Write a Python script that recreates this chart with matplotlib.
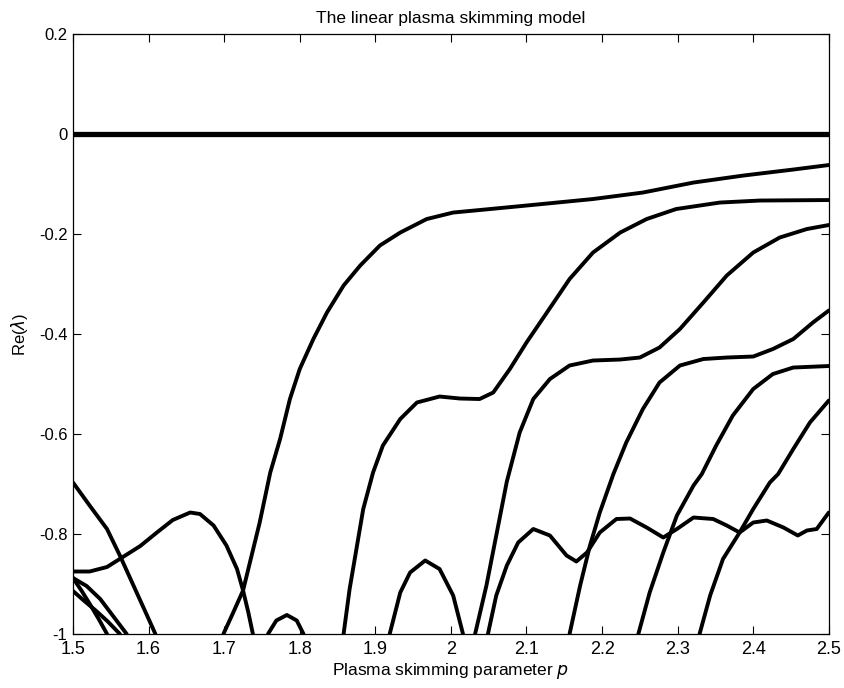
import matplotlib
matplotlib.use("Agg")
import matplotlib.pyplot as plt
from matplotlib.ticker import FuncFormatter

plt.rcParams['font.family'] = ['Liberation Sans', 'DejaVu Sans']
plt.rcParams['axes.unicode_minus'] = False

# eigenvalue branches: (p, Re(lambda))
p_zero = [1.5, 2.5]
re_zero = [0.0, 0.0]

p_b = [1.699, 1.712, 1.725, 1.747, 1.761, 1.774, 1.787, 1.800, 1.818, 1.836, 1.858,
       1.880, 1.906, 1.933, 1.968, 2.003, 2.038, 2.100, 2.188, 2.254, 2.321, 2.387,
       2.453, 2.5]
re_b = [-1.0, -0.957, -0.913, -0.777, -0.677, -0.61, -0.53, -0.47, -0.41, -0.357, -0.303,
        -0.263, -0.223, -0.197, -0.17, -0.157, -0.152, -0.143, -0.13, -0.117, -0.097, -0.083,
        -0.071, -0.062]

p_c = [1.858, 1.866, 1.875, 1.884, 1.897, 1.910, 1.933, 1.955, 1.985, 2.012, 2.038,
       2.056, 2.078, 2.100, 2.127, 2.157, 2.188, 2.224, 2.259, 2.298, 2.356, 2.409, 2.5]
re_c = [-1.0, -0.91, -0.83, -0.75, -0.677, -0.623, -0.57, -0.537, -0.525, -0.529, -0.53,
        -0.517, -0.47, -0.417, -0.357, -0.29, -0.237, -0.197, -0.17, -0.15, -0.137, -0.133, -0.132]

p_d = [2.032, 2.047, 2.060, 2.074, 2.091, 2.109, 2.131, 2.157, 2.188, 2.224, 2.250,
       2.276, 2.303, 2.334, 2.365, 2.400, 2.435, 2.471, 2.5]
re_d = [-1.0, -0.903, -0.803, -0.695, -0.597, -0.53, -0.49, -0.463, -0.453, -0.451, -0.447,
        -0.427, -0.39, -0.337, -0.283, -0.237, -0.207, -0.19, -0.182]

p_e = [2.157, 2.171, 2.184, 2.197, 2.215, 2.232, 2.254, 2.276, 2.303, 2.334, 2.365,
       2.400, 2.426, 2.453, 2.479, 2.5]
re_e = [-1.0, -0.903, -0.823, -0.757, -0.68, -0.617, -0.55, -0.497, -0.463, -0.45, -0.447,
        -0.445, -0.43, -0.41, -0.377, -0.353]

p_f = [2.248, 2.263, 2.281, 2.299, 2.321, 2.332, 2.351, 2.373, 2.400, 2.426, 2.453, 2.5]
re_f = [-1.0, -0.917, -0.837, -0.763, -0.703, -0.68, -0.623, -0.563, -0.51, -0.48, -0.467, -0.464]

p_g = [2.329, 2.343, 2.360, 2.382, 2.400, 2.422, 2.433, 2.453, 2.475, 2.5]
re_g = [-1.0, -0.923, -0.85, -0.797, -0.75, -0.697, -0.68, -0.63, -0.577, -0.533]

p_w = [2.049, 2.060, 2.074, 2.089, 2.109, 2.131, 2.153, 2.166, 2.180, 2.197, 2.219, 2.237,
       2.259, 2.281, 2.299, 2.321, 2.347, 2.365, 2.382, 2.400, 2.418, 2.440, 2.459, 2.471,
       2.484, 2.5]
re_w = [-1.0, -0.923, -0.863, -0.817, -0.79, -0.803, -0.843, -0.855, -0.837, -0.797, -0.77, -0.769,
        -0.787, -0.807, -0.79, -0.767, -0.77, -0.783, -0.797, -0.777, -0.773, -0.787, -0.803, -0.793,
        -0.79, -0.757]

p_h = [1.919, 1.933, 1.946, 1.966, 1.985, 2.003, 2.016]
re_h = [-1.0, -0.917, -0.877, -0.853, -0.87, -0.923, -1.0]

p_s = [1.758, 1.769, 1.783, 1.796, 1.805]
re_s = [-1.0, -0.973, -0.962, -0.973, -1.0]

p_i = [1.5, 1.522, 1.545, 1.566, 1.589, 1.611, 1.632, 1.655, 1.668, 1.686, 1.703, 1.717,
       1.725, 1.732, 1.738]
re_i = [-0.875, -0.875, -0.866, -0.846, -0.824, -0.797, -0.772, -0.757, -0.76, -0.783, -0.823, -0.87,
        -0.913, -0.957, -1.0]

p_j = [1.5, 1.522, 1.545, 1.562, 1.580, 1.598, 1.609]
re_j = [-0.697, -0.743, -0.79, -0.843, -0.903, -0.963, -1.0]

p_k1 = [1.5, 1.518, 1.536, 1.553, 1.571]
re_k1 = [-0.888, -0.904, -0.93, -0.964, -1.0]

p_k2 = [1.5, 1.512, 1.523, 1.534, 1.545]
re_k2 = [-0.888, -0.915, -0.942, -0.97, -1.0]

p_k3 = [1.5, 1.515, 1.530, 1.546, 1.562]
re_k3 = [-0.914, -0.934, -0.953, -0.975, -1.0]

branches = [(p_b, re_b), (p_c, re_c), (p_d, re_d), (p_e, re_e), (p_f, re_f),
            (p_g, re_g), (p_w, re_w), (p_h, re_h), (p_s, re_s), (p_i, re_i),
            (p_j, re_j), (p_k1, re_k1), (p_k2, re_k2), (p_k3, re_k3)]

fig = plt.figure(figsize=(8.44, 6.88), dpi=100)
ax = fig.add_axes([0.0865, 0.0785, 0.8955, 0.872])

ax.plot(p_zero, re_zero, color='black', lw=3.8, solid_capstyle='butt')
for px, py in branches:
    ax.plot(px, py, color='black', lw=2.8, solid_capstyle='round', solid_joinstyle='round')

ax.set_xlim(1.5, 2.5)
ax.set_ylim(-1, 0.2)
ax.set_xticks([1.5, 1.6, 1.7, 1.8, 1.9, 2.0, 2.1, 2.2, 2.3, 2.4, 2.5])
ax.set_yticks([-1, -0.8, -0.6, -0.4, -0.2, 0, 0.2])
fmt = FuncFormatter(lambda v, pos: ('%g' % round(v, 2)))
ax.xaxis.set_major_formatter(fmt)
ax.yaxis.set_major_formatter(fmt)
ax.tick_params(direction='in', length=6, width=0.8, top=True, right=True)
ax.tick_params(axis='x', labelsize=13, pad=5)
ax.tick_params(axis='y', labelsize=12, pad=4)
for s in ax.spines.values():
    s.set_linewidth(0.9)

ax.set_title('The linear plasma skimming model', fontsize=12.5, pad=8)
ax.set_xlabel('Plasma skimming parameter $p$', fontsize=12.5, labelpad=2)
ax.set_ylabel(r'Re($\lambda$)', fontsize=12, labelpad=6)

fig.savefig('out.png', dpi=100)
